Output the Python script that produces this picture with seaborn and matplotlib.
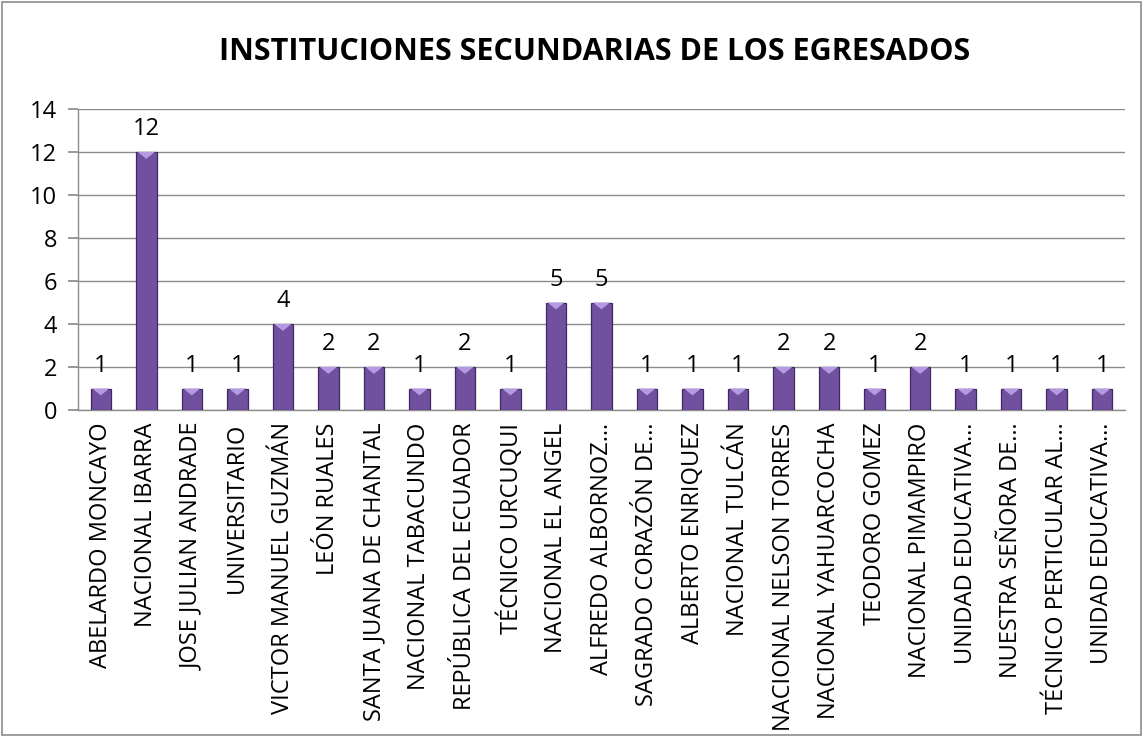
import matplotlib
matplotlib.use("Agg")
import matplotlib.pyplot as plt
import seaborn as sns
import pandas as pd
from matplotlib.patches import Rectangle, Polygon

categories = [
    "ABELARDO MONCAYO", "NACIONAL IBARRA", "JOSE JULIAN ANDRADE", "UNIVERSITARIO",
    "VICTOR MANUEL GUZMÁN", "LEÓN RUALES", "SANTA JUANA DE CHANTAL",
    "NACIONAL TABACUNDO", "REPÚBLICA DEL ECUADOR", "TÉCNICO URCUQUI",
    "NACIONAL EL ANGEL", "ALFREDO ALBORNOZ…", "SAGRADO CORAZÓN DE…",
    "ALBERTO ENRIQUEZ", "NACIONAL TULCÁN", "NACIONAL NELSON TORRES",
    "NACIONAL YAHUARCOCHA", "TEODORO GOMEZ", "NACIONAL PIMAMPIRO",
    "UNIDAD EDUCATIVA…", "NUESTRA SEÑORA DE…", "TÉCNICO PERTICULAR AL…",
    "UNIDAD EDUCATIVA… ",
]
values = [1, 12, 1, 1, 4, 2, 2, 1, 2, 1, 5, 5, 1, 1, 1, 2, 2, 1, 2, 1, 1, 1, 1]
title = "INSTITUCIONES SECUNDARIAS DE LOS EGRESADOS"
yticks = [0, 2, 4, 6, 8, 10, 12, 14]

sns.set_theme(style="white")
plt.rcParams['font.family'] = ['Open Sans', 'DejaVu Sans']
plt.rcParams['text.color'] = 'black'
plt.rcParams['xtick.color'] = 'black'
plt.rcParams['ytick.color'] = 'black'

df = pd.DataFrame({"cat": categories, "val": values})

fig = plt.figure(figsize=(11.43, 7.37), dpi=100)
ax = fig.add_axes([78/1143, 1 - 410/737, (1125-78)/1143, (410-109)/737])

sns.barplot(data=df, x="cat", y="val", ax=ax, color="#7150A0", width=0.45,
            edgecolor="#3E2A5E", linewidth=0.9, saturation=1, zorder=3)

# bevel highlight on top of each bar, derived from bar geometry
for p in ax.patches:
    x0 = p.get_x(); w = p.get_width(); h = p.get_height()
    tri = Polygon([(x0 + w*0.08, h), (x0 + w*0.92, h), (x0 + w/2, h - 0.32)],
                  closed=True, facecolor="#B49AE0", edgecolor="none", zorder=4)
    ax.add_patch(tri)

ax.set_ylim(0, 14)
ax.set_yticks(yticks)
ax.set_xlim(-0.5, len(categories) - 0.5)
ax.grid(axis="y", color="#8C8C8C", linewidth=1.0, zorder=0)
for s in ["top", "right"]:
    ax.spines[s].set_visible(False)
for s in ["left", "bottom"]:
    ax.spines[s].set_color("#8C8C8C")
    ax.spines[s].set_linewidth(1.0)
ax.tick_params(axis="y", length=7, color="#8C8C8C", labelcolor="black",
               labelsize=17, left=True, pad=8)
ax.tick_params(axis="x", length=0, labelcolor="black", labelsize=17, pad=9)
ax.set_xticks(range(len(categories)))
ax.set_xticklabels([c.strip() for c in categories], rotation=90)
ax.set_xlabel("")
ax.set_ylabel("")

for i, v in enumerate(values):
    ax.text(i, v + 0.5, str(v), ha="center", va="bottom", fontsize=17,
            color="black", zorder=5)

fig.text(595/1143, 1 - 52/737, title, ha="center", va="center", fontsize=22,
         fontweight="bold", color="black")

fig.patches.append(Rectangle((2/1143, 2/737), 1 - 4/1143, 1 - 4/737,
                             transform=fig.transFigure, fill=False,
                             edgecolor="#8C8C8C", linewidth=1.2))

fig.savefig("out.png", dpi=100)
